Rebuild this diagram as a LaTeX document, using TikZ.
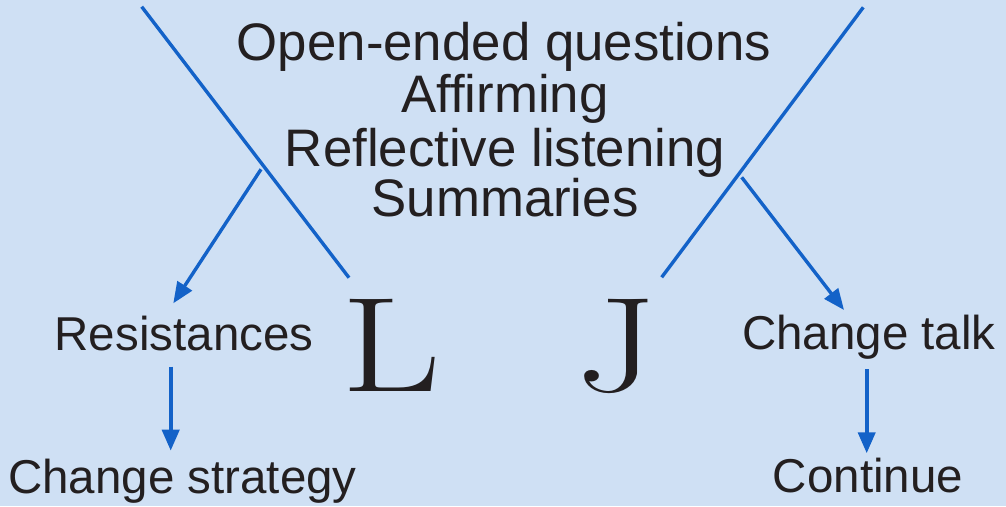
\documentclass[tikz,border=0pt]{standalone}
\usepackage{fontspec}
\usetikzlibrary{arrows.meta}
\newfontfamily\arialfont{Liberation Sans}
\definecolor{bgblue}{RGB}{207,224,244}
\definecolor{lineblue}{RGB}{19,98,200}
\definecolor{ink}{RGB}{35,31,32}
\tikzset{
  toptext/.style={anchor=base, inner sep=0pt, text=ink, font=\arialfont\fontsize{52.8}{52.8}\selectfont},
  lowtext/.style={anchor=base, inner sep=0pt, text=ink, font=\arialfont\fontsize{47.5}{47.5}\selectfont},
  bigletter/.style={anchor=base west, inner sep=0pt, text=ink, font=\rmfamily\fontsize{135}{135}\selectfont\addfontfeatures{FakeBold=2}, xscale=1.28},
  crossline/.style={draw=lineblue, line width=3.4pt},
  flowarrow/.style={draw=lineblue, line width=3.4pt, -{Triangle[length=21pt,width=17pt]}},
  downarrow/.style={draw=lineblue, line width=4pt, -{Triangle[length=21pt,width=17pt]}}
}
\begin{document}
\begin{tikzpicture}[x=1pt,y=-1pt]
\fill[bgblue] (0,0) rectangle (1006,506);
\useasboundingbox (0,0) rectangle (1006,506);
% top text
\node[toptext] (q1) at (504,60) {Open-ended questions};
\node[toptext] (q2) at (505,112.7) {Affirming};
\node[toptext] (q3) at (505,166) {Reflective listening};
\node[toptext] (q4) at (505,216.7) {Summaries};
% lower texts
\node[lowtext] (res) at (184,350) {Resistances};
\node[lowtext] (cstr) at (182.5,493.3) {Change strategy};
\node[lowtext] (ctalk) at (869,349.3) {Change talk};
\node[lowtext] (cont) at (868,492.7) {Continue};
% big letters
\node[bigletter] (L) at (341,391) {L};
\node[bigletter] (J) at (575,391) {J};
% coordinates
\coordinate (lt) at (141.7,6.7);
\coordinate (lb) at (349,277.7);
\coordinate (rt) at (863.3,7.3);
\coordinate (rb) at (661.7,277.3);
\coordinate (la1) at (261,169.3);
\coordinate (la2) at (173.3,303.3);
\coordinate (ra1) at (741.7,177.3);
\coordinate (ra2) at (844,310);
\coordinate (ld1) at (170.7,366.7);
\coordinate (ld2) at (170.7,450.7);
\coordinate (rd1) at (866.7,369.3);
\coordinate (rd2) at (866.7,453.3);
% lines
\draw[crossline] (lt) -- (lb);
\draw[crossline] (rt) -- (rb);
\draw[flowarrow] (la1) -- (la2);
\draw[flowarrow] (ra1) -- (ra2);
\draw[downarrow] (ld1) -- (ld2);
\draw[downarrow] (rd1) -- (rd2);
\end{tikzpicture}
\end{document}
